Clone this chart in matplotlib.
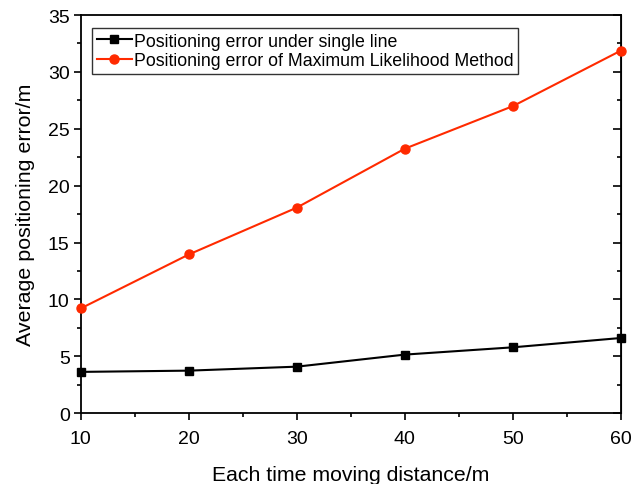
import numpy as np
import matplotlib
matplotlib.use("Agg")
import matplotlib.pyplot as plt
from matplotlib.ticker import MultipleLocator

# data
distance = [10, 20, 30, 40, 50, 60]
err_single = [3.63, 3.74, 4.09, 5.15, 5.79, 6.61]
err_mle = [9.21, 13.95, 18.07, 23.25, 26.99, 31.87]

plt.rcParams['font.family'] = ['Liberation Sans', 'DejaVu Sans']

fig = plt.figure(figsize=(6.31, 4.85), dpi=100)
ax = fig.add_axes([0.128, 0.146, 0.856, 0.821])

ax.plot(distance, err_single, color='black', marker='s', markersize=6, lw=1.5,
        label='Positioning error under single line', clip_on=False, zorder=3)
ax.plot(distance, err_mle, color='#ff2a00', marker='o', markersize=6.5, lw=1.5,
        label='Positioning error of Maximum Likelihood Method', clip_on=False, zorder=3)

ax.set_xlim(10, 60)
ax.set_ylim(0, 35)
ax.xaxis.set_major_locator(MultipleLocator(10))
ax.xaxis.set_minor_locator(MultipleLocator(5))
ax.yaxis.set_major_locator(MultipleLocator(5))
ax.yaxis.set_minor_locator(MultipleLocator(2.5))

ax.tick_params(which='both', direction='out', width=1.2, labelsize=14, colors='black')
ax.tick_params(which='major', length=5)
ax.tick_params(which='minor', length=3)
ax.tick_params(axis='x', pad=7)
ax.tick_params(axis='y', pad=3)
for s in ax.spines.values():
    s.set_linewidth(1.3)

# right side ticks point inward
ax2 = ax.secondary_yaxis('right')
ax2.yaxis.set_major_locator(MultipleLocator(5))
ax2.yaxis.set_minor_locator(MultipleLocator(2.5))
ax2.tick_params(which='both', direction='in', width=1.2, labelright=False)
ax2.tick_params(which='major', length=6)
ax2.tick_params(which='minor', length=3)

ax.set_xlabel('Each time moving distance/m', fontsize=15.3, labelpad=13)
ax.set_ylabel('Average positioning error/m', fontsize=15.4, labelpad=9)

leg = ax.legend(loc='upper left', bbox_to_anchor=(0.021, 0.967), borderaxespad=0,
                fontsize=12.8, frameon=True, fancybox=False, edgecolor='black',
                handlelength=2.0, handletextpad=0.1, borderpad=0.25, labelspacing=0.15)
leg.get_frame().set_linewidth(1.0)

fig.savefig('out.png', dpi=100)
